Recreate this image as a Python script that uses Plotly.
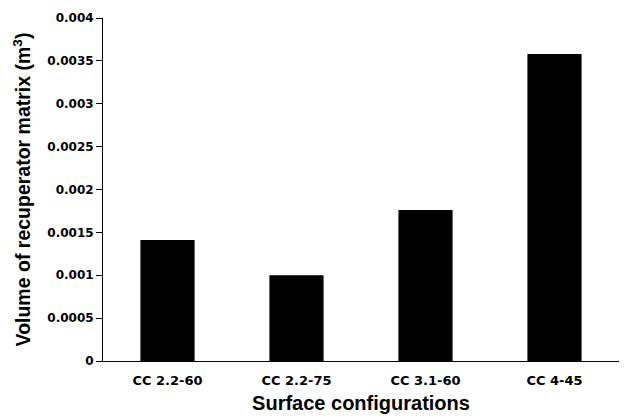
import plotly.graph_objects as go

# Recuperator matrix volume for each surface configuration
configurations = ["CC 2.2-60", "CC 2.2-75", "CC 3.1-60", "CC 4-45"]
volumes = [0.00141, 0.00100, 0.00176, 0.00358]

y_tick_vals = [0, 0.0005, 0.001, 0.0015, 0.002, 0.0025, 0.003, 0.0035, 0.004]
y_tick_text = ["0", "0.0005", "0.001", "0.0015", "0.002", "0.0025", "0.003", "0.0035", "0.004"]

TITLE_FONT = "Liberation Sans, Arial, sans-serif"
TICK_FONT = "DejaVu Sans, Verdana, sans-serif"

fig = go.Figure(
    go.Bar(
        x=configurations,
        y=volumes,
        marker=dict(color="black", line=dict(width=0)),
        width=0.42,
    )
)

fig.update_layout(
    width=632,
    height=418,
    margin=dict(l=103, r=13, t=18, b=57),
    paper_bgcolor="white",
    plot_bgcolor="white",
    showlegend=False,
    font=dict(family=TITLE_FONT, color="black"),
)

fig.update_xaxes(
    range=[-0.5, 3.5],
    automargin=False,
    showline=True,
    linecolor="black",
    linewidth=1,
    ticks="",
    showgrid=False,
    ticklabelstandoff=7,
    tickfont=dict(family=TICK_FONT, size=13, color="black", weight="bold"),
    title=dict(
        text="<b>Surface configurations</b>",
        font=dict(family=TITLE_FONT, size=20, color="black"),
        standoff=9,
    ),
)

fig.update_yaxes(
    range=[0, 0.004],
    automargin=False,
    tickvals=y_tick_vals,
    ticktext=[f"<b>{t}</b>" for t in y_tick_text],
    showline=True,
    linecolor="black",
    linewidth=1,
    ticks="outside",
    ticklen=6,
    tickcolor="black",
    showgrid=False,
    zeroline=False,
    tickfont=dict(family=TICK_FONT, size=12, color="black"),
    title=dict(
        text="<b>Volume of recuperator matrix (m<sup>3</sup>)</b>",
        font=dict(family=TITLE_FONT, size=19.5, color="black"),
        standoff=11,
    ),
)

fig.write_html("out.html")
